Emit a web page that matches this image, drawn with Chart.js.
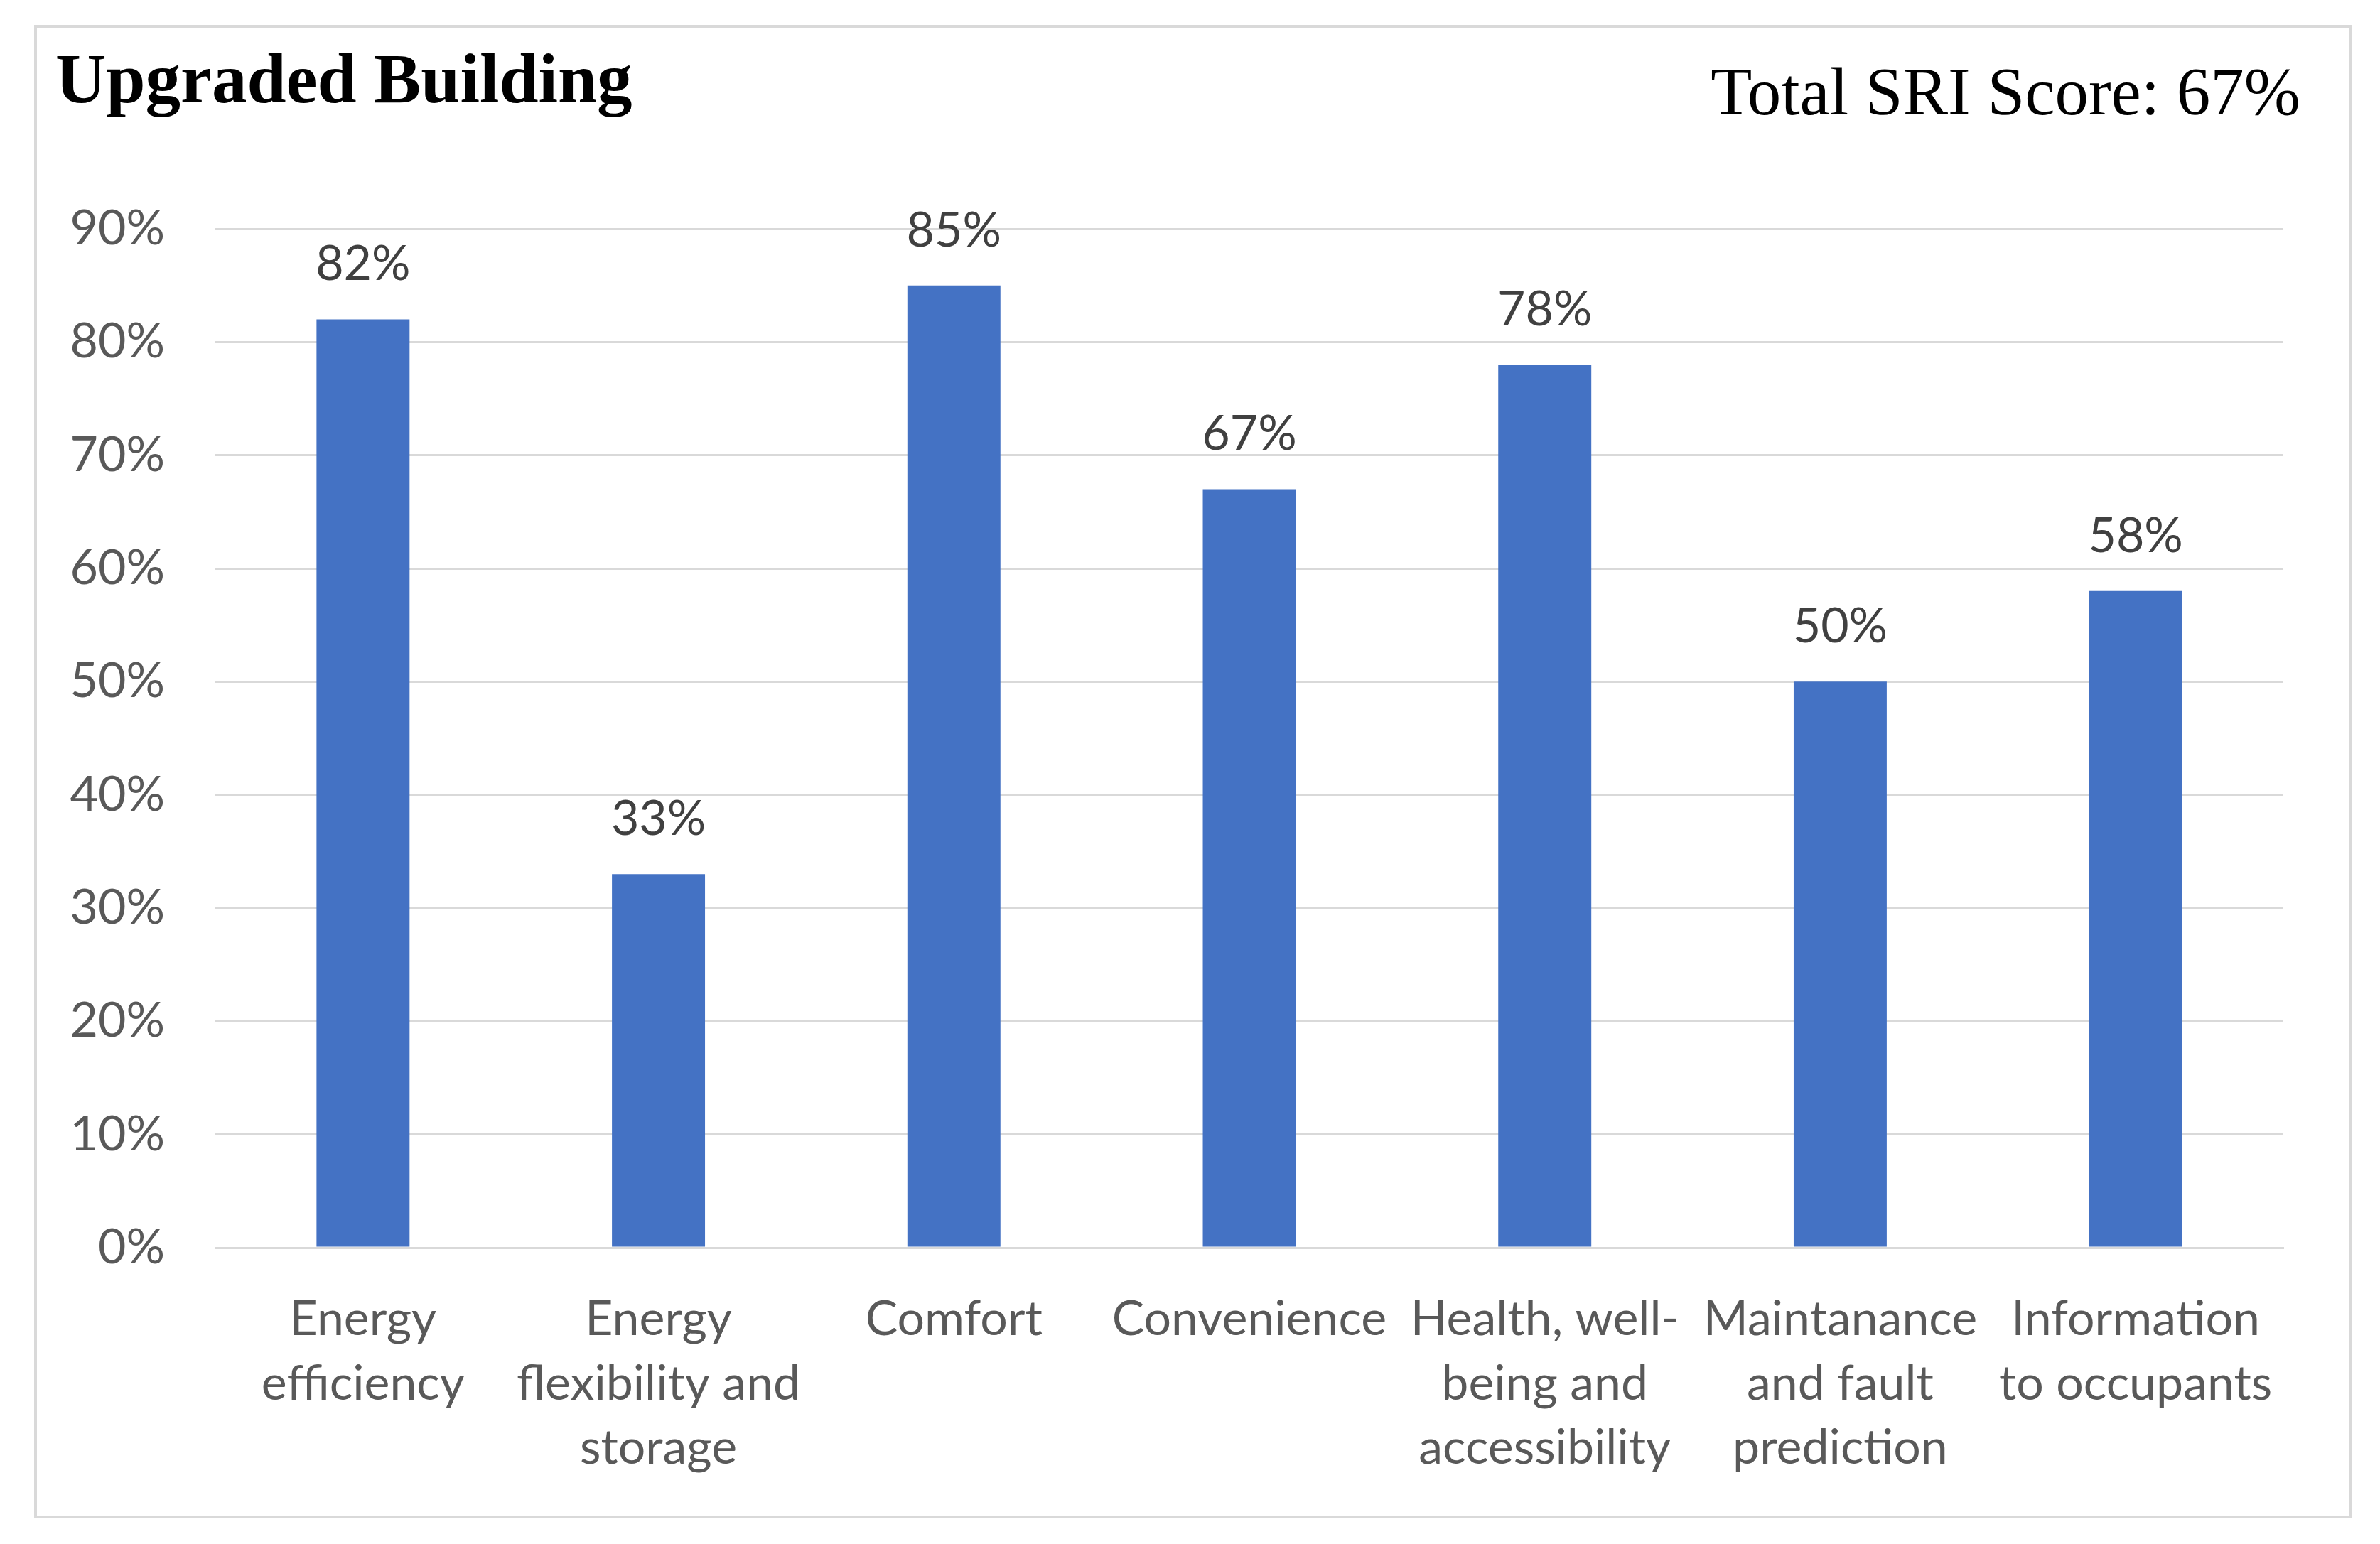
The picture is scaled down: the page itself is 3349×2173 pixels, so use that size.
<!DOCTYPE html>
<html>
<head>
<meta charset="utf-8">
<script src="https://cdn.jsdelivr.net/npm/chart.js@4.4.0/dist/chart.umd.min.js"></script>
<style>
  html, body { margin: 0; padding: 0; background: #ffffff; }
  #wrap { position: relative; width: 3349px; height: 2173px; overflow: hidden; background: #fff; }
  #frame { position: absolute; left: 48px; top: 35px; width: 3254px; height: 2094px; border: 4px solid #d9d9d9; box-sizing: content-box; }
  #c { position: absolute; left: 0; top: 0; }
  .ttl { position: absolute; white-space: nowrap; line-height: 1; color: #000; }
  #title { left: 78px; top: 54px; font: bold 99px "Liberation Serif", serif; }
  #score { right: 112px; top: 74px; font: 95px "Liberation Serif", serif; }
</style>
</head>
<body>
<div id="wrap">
  <div id="frame"></div>
  <canvas id="c" width="3349" height="2173"></canvas>
  <div class="ttl" id="title">Upgraded Building</div>
  <div class="ttl" id="score">Total SRI Score: 67%</div>
</div>
<script>
const categories = [
  ["Energy", "efficiency"],
  ["Energy", "flexibility and", "storage"],
  ["Comfort"],
  ["Convenience"],
  ["Health, well-", "being and", "accessibility"],
  ["Maintanance", "and fault", "prediction"],
  ["Information", "to occupants"]
];
const scores = [82, 33, 85, 67, 78, 50, 58];
const yTicks = [0, 10, 20, 30, 40, 50, 60, 70, 80, 90];

const axisFont = { family: "Lato, 'Open Sans', sans-serif", size: 68 };

const dataLabelPlugin = {
  id: 'dataLabels',
  afterDatasetsDraw(chart) {
    const ctx = chart.ctx;
    const meta = chart.getDatasetMeta(0);
    ctx.save();
    ctx.font = "68px Lato, 'Open Sans', sans-serif";
    ctx.fillStyle = '#404040';
    ctx.textAlign = 'center';
    ctx.textBaseline = 'alphabetic';
    meta.data.forEach((bar, i) => {
      ctx.fillText(scores[i] + '%', bar.x, bar.y - 55);
    });
    ctx.restore();
  }
};

new Chart(document.getElementById('c'), {
  type: 'bar',
  data: {
    labels: categories,
    datasets: [{
      data: scores,
      backgroundColor: '#4472C4',
      borderWidth: 0,
      categoryPercentage: 1.0,
      barPercentage: 0.315
    }]
  },
  options: {
    responsive: false,
    animation: false,
    devicePixelRatio: 1,
    layout: { padding: { left: 0, top: 322, right: 136, bottom: 0 } },
    plugins: {
      legend: { display: false },
      tooltip: { enabled: false },
      title: { display: false }
    },
    scales: {
      x: {
        grid: { display: false, drawTicks: false },
        border: { display: true, color: '#d9d9d9', width: 3 },
        ticks: {
          color: '#595959',
          font: { ...axisFont, lineHeight: 1.33 },
          padding: 56,
          maxRotation: 0,
          minRotation: 0,
          autoSkip: false
        },
        afterFit(s) { s.height = 417; }
      },
      y: {
        min: 0,
        max: 90,
        afterBuildTicks(s) { s.ticks = yTicks.map(v => ({ value: v })); },
        grid: { color: '#d9d9d9', lineWidth: 3, drawTicks: false },
        border: { display: false },
        ticks: {
          color: '#595959',
          font: axisFont,
          padding: 71,
          callback: v => v + '%'
        },
        afterFit(s) { s.width = 303; }
      }
    }
  },
  plugins: [dataLabelPlugin]
});
</script>
</body>
</html>
